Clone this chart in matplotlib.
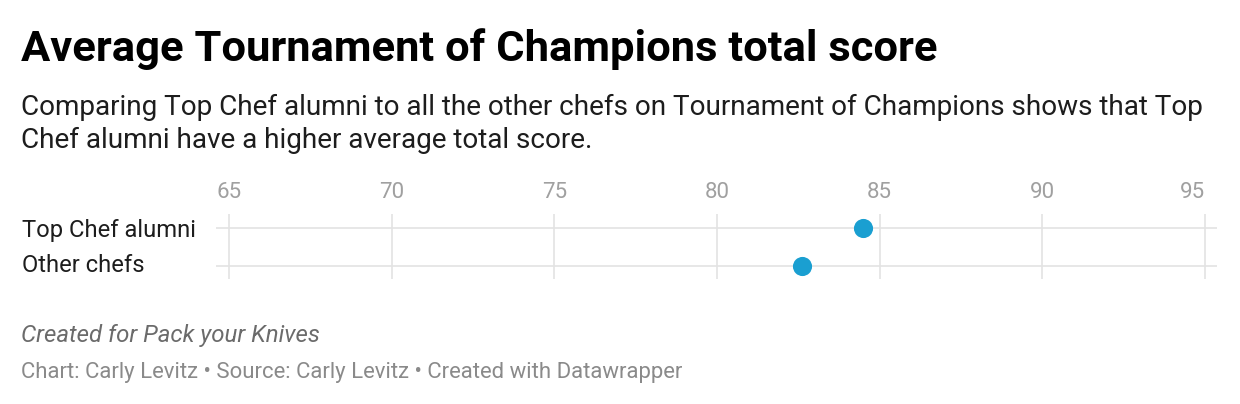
import matplotlib
matplotlib.use("Agg")
import matplotlib.pyplot as plt
from matplotlib.transforms import blended_transform_factory

categories = ["Top Chef alumni", "Other chefs"]
scores = [84.5, 82.6]
x_ticks = [65, 70, 75, 80, 85, 90, 95]

title = "Average Tournament of Champions total score"
subtitle1 = "Comparing Top Chef alumni to all the other chefs on Tournament of Champions shows that Top"
subtitle2 = "Chef alumni have a higher average total score."
note = "Created for Pack your Knives"
credits = "Chart: Carly Levitz \u2022 Source: Carly Levitz \u2022 Created with Datawrapper"

plt.rcParams['font.family'] = ['Roboto', 'DejaVu Sans']

W, H = 1240, 404
fig = plt.figure(figsize=(W / 100, H / 100), dpi=100)
fig.patch.set_facecolor("white")

def fy(py):
    return 1 - py / H

def fx(px):
    return px / W

ax_left, ax_right = 216, 1217
ax_top, ax_bottom = 214, 279
ax = fig.add_axes([fx(ax_left), fy(ax_bottom), fx(ax_right - ax_left), (ax_bottom - ax_top) / H])
ax.set_facecolor("none")

ppu = (1205 - 229) / 30.0
ax.set_xlim(65 - (229 - ax_left) / ppu, 95 + (ax_right - 1205) / ppu)
row_px = [227.7, 265.5]
rs = row_px[1] - row_px[0]
ax.set_ylim(1 + (ax_bottom - row_px[1]) / rs, 0 - (row_px[0] - ax_top) / rs)

for s in ax.spines.values():
    s.set_visible(False)
ax.set_xticks([])
ax.set_yticks([])

grid_c = "#e3e3e3"
for t in x_ticks:
    ax.axvline(t, color=grid_c, lw=1.2, zorder=1)
for i in range(len(categories)):
    ax.axhline(i, color=grid_c, lw=1.2, zorder=1)

ax.scatter(scores, range(len(categories)), s=190, color="#1a9fd1", zorder=3, linewidths=0)

tr = blended_transform_factory(ax.transData, fig.transFigure)
for i, t in enumerate(x_ticks):
    ha = "right" if i == len(x_ticks) - 1 else "center"
    ax.text(t, fy(198), str(t), transform=tr, ha=ha, va="baseline",
            fontsize=16, color="#a0a0a0")

base_px = [236.8, 271.7]
for i, c in enumerate(categories):
    fig.text(fx(22), fy(base_px[i]), c, ha="left", va="baseline",
             fontsize=17.1, color="#1d1d1d")

fig.text(fx(21), fy(61), title, ha="left", va="baseline", fontsize=31.3,
         fontweight="bold", color="#000000")
fig.text(fx(21), fy(115), subtitle1, ha="left", va="baseline", fontsize=20.1, color="#1d1d1d")
fig.text(fx(21), fy(148), subtitle2, ha="left", va="baseline", fontsize=20.1, color="#1d1d1d")
fig.text(fx(21), fy(342), note, ha="left", va="baseline", fontsize=17.3, style="italic",
         color="#6b6b6b")
fig.text(fx(21), fy(378), credits, ha="left", va="baseline", fontsize=15.9, color="#8a8a8a")

fig.savefig("out.png", dpi=100, facecolor="white")
